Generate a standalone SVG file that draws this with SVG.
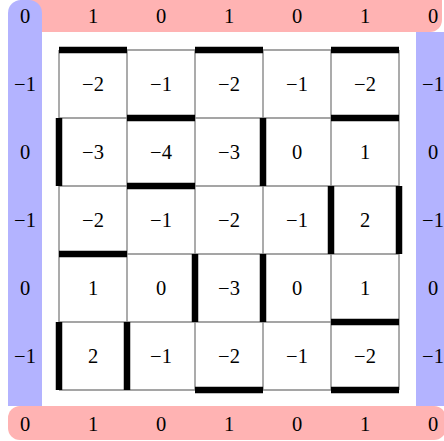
<svg xmlns="http://www.w3.org/2000/svg" width="444" height="441" viewBox="0 0 444 441">
<style>
text{font-family:"Liberation Serif","DejaVu Serif",serif;font-size:20.5px;fill:#000;text-anchor:middle}
.grid{stroke:#888;stroke-width:1.4;fill:none}
.wall{stroke:#000;stroke-width:6.5;fill:none}
.red{fill:#ffb3b3}
.blue{fill:#b3b3ff}
</style>
<rect width="444" height="441" fill="#fff"/>
<g id="bands">
<rect class="red" x="20" y="-14" width="422" height="46" rx="12"/>
<rect class="blue" x="416" y="32" width="40" height="374"/>
<path class="blue" d="M8,406 V13 A13,13 0 0 1 21,0 H29 A13,13 0 0 1 42,13 V406 Z"/>
<rect class="red" x="8" y="406" width="438" height="34" rx="12"/>
</g>
<g id="labels-top">
<text x="25" y="23">0</text><text x="93" y="23">1</text><text x="161" y="23">0</text><text x="229" y="23">1</text><text x="297" y="23">0</text><text x="365" y="23">1</text><text x="433" y="23">0</text>
</g>
<g id="labels-bottom">
<text x="25" y="431">0</text><text x="93" y="431">1</text><text x="161" y="431">0</text><text x="229" y="431">1</text><text x="297" y="431">0</text><text x="365" y="431">1</text><text x="433" y="431">0</text>
</g>
<g id="labels-left">
<text x="25" y="91">−1</text><text x="25" y="159">0</text><text x="25" y="227">−1</text><text x="25" y="295">0</text><text x="25" y="363">−1</text>
</g>
<g id="labels-right">
<text x="433" y="91">−1</text><text x="433" y="159">0</text><text x="433" y="227">−1</text><text x="433" y="295">0</text><text x="433" y="363">−1</text>
</g>
<g id="grid">
<path class="grid" d="M59,50 H399 M59,118 H399 M59,186 H399 M59,254 H399 M59,322 H399 M59,390 H399 M59,50 V390 M127,50 V390 M195,50 V390 M263,50 V390 M331,50 V390 M399,50 V390"/>
</g>
<g id="cells">
<g id="r1"><text x="93" y="91">−2</text><text x="161" y="91">−1</text><text x="229" y="91">−2</text><text x="297" y="91">−1</text><text x="365" y="91">−2</text></g>
<g id="r2"><text x="93" y="159">−3</text><text x="161" y="159">−4</text><text x="229" y="159">−3</text><text x="297" y="159">0</text><text x="365" y="159">1</text></g>
<g id="r3"><text x="93" y="227">−2</text><text x="161" y="227">−1</text><text x="229" y="227">−2</text><text x="297" y="227">−1</text><text x="365" y="227">2</text></g>
<g id="r4"><text x="93" y="295">1</text><text x="161" y="295">0</text><text x="229" y="295">−3</text><text x="297" y="295">0</text><text x="365" y="295">1</text></g>
<g id="r5"><text x="93" y="363">2</text><text x="161" y="363">−1</text><text x="229" y="363">−2</text><text x="297" y="363">−1</text><text x="365" y="363">−2</text></g>
</g>
<g id="walls">
<path class="wall" d="M59,50 H127 M195,50 H263 M331,50 H399 M127,118 H195 M331,118 H399 M127,186 H195 M59,254 H127 M331,322 H399 M195,390 H263 M331,390 H399 M59,118 V186 M263,118 V186 M331,186 V254 M399,186 V254 M195,254 V322 M263,254 V322 M59,322 V390 M127,322 V390"/>
</g>
</svg>
